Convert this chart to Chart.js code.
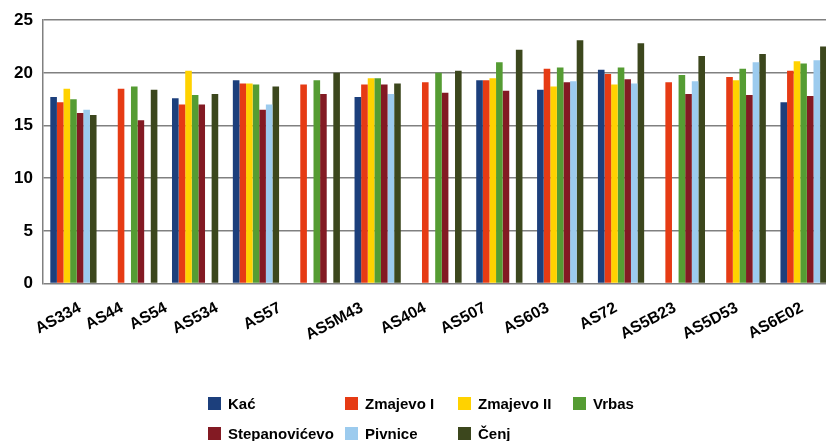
<!DOCTYPE html>
<html>
<head>
<meta charset="utf-8">
<script src="https://cdn.jsdelivr.net/npm/chart.js@4/dist/chart.umd.min.js"></script>
<style>
  html, body { margin: 0; padding: 0; background: #fff; }
  #page { position: relative; width: 826px; height: 441px; overflow: hidden; }
  #chartBox { position: absolute; left: 0; top: 0; width: 834px; height: 441px; }
  #legend {
    position: absolute; left: 208px; top: 388px;
    display: grid; grid-template-columns: 137px 113px 115px auto;
    grid-auto-rows: 30px;
    font: bold 15px "Liberation Sans", Arial, sans-serif; color: #000;
  }
  #legend .item { display: flex; align-items: center; white-space: nowrap; }
  #legend .box { width: 13px; height: 13px; margin-right: 7px; flex: none; }
</style>
</head>
<body>
<div id="page">
  <div id="chartBox"><canvas id="chart" width="834" height="441"></canvas></div>
  <div id="legend"></div>
</div>
<script>
// categories and series
var categories = ['AS334', 'AS44', 'AS54', 'AS534', 'AS57', 'AS5M43', 'AS404',
                  'AS507', 'AS603', 'AS72', 'AS5B23', 'AS5D53', 'AS6E02'];
var seriesNames = ['Kać', 'Zmajevo I', 'Zmajevo II', 'Vrbas', 'Stepanovićevo', 'Pivnice', 'Čenj'];

var kac           = [17.7, null, 17.6, 19.3, null, 17.7, null, 19.3, 18.4, 20.3, null, null, 17.2];
var zmajevo1      = [17.2, 18.5, 17.0, 19.0, 18.9, 18.9, 19.1, 19.3, 20.4, 19.9, 19.1, 19.6, 20.2];
var zmajevo2      = [18.5, null, 20.2, 19.0, null, 19.5, null, 19.5, 18.7, 18.9, null, 19.3, 21.1];
var vrbas         = [17.5, 18.7, 17.9, 18.9, 19.3, 19.5, 20.0, 21.0, 20.5, 20.5, 19.8, 20.4, 20.9];
var stepanovicevo = [16.2, 15.5, 17.0, 16.5, 18.0, 18.9, 18.1, 18.3, 19.1, 19.4, 18.0, 17.9, 17.8];
var pivnice       = [16.5, null, null, 17.0, null, 18.0, null, null, 19.2, 19.0, 19.2, 21.0, 21.2];
var cenj          = [16.0, 18.4, 18.0, 18.7, 20.0, 19.0, 20.2, 22.2, 23.1, 22.8, 21.6, 21.8, 22.5];

var yTicks = [0, 5, 10, 15, 20, 25];

var seriesValues = [kac, zmajevo1, zmajevo2, vrbas, stepanovicevo, pivnice, cenj];
var seriesColors = ['#1c3f7c', '#e63b14', '#ffd200', '#559c33', '#831a23', '#9ccbee', '#3c471d'];

// where the slanted category labels end (x pixel), they don't sit under the groups in the original
var labelAnchors = [80, 122, 166, 217, 280, 362, 425, 485, 548, 616, 675, 737, 802];

Chart.defaults.font.family = '"Liberation Sans", Arial, sans-serif';

var datasets = seriesNames.map(function(name, i) {
  return {
    label: name,
    data: seriesValues[i],
    backgroundColor: seriesColors[i],
    borderWidth: 0,
    barPercentage: 1,
    categoryPercentage: 0.76
  };
});

var ctx = document.getElementById('chart').getContext('2d');
var chart = new Chart(ctx, {
  type: 'bar',
  data: { labels: categories, datasets: datasets },
  options: {
    responsive: false,
    animation: false,
    layout: { padding: { top: 13.5, right: 0, bottom: 0, left: 0 } },
    plugins: { legend: { display: false }, tooltip: { enabled: false } },
    scales: {
      x: { display: false, offset: true },
      lbl: {
        type: 'linear',
        position: 'bottom',
        offset: false,
        min: 43,
        max: 834,
        afterBuildTicks: function(scale) {
          scale.ticks = labelAnchors.map(function(v) { return { value: v }; });
        },
        afterFit: function(scale) {
          scale.height = 441 - 283.5;
          scale.paddingLeft = 0;
          scale.paddingRight = 0;
        },
        ticks: {
          autoSkip: false,
          minRotation: 28,
          maxRotation: 28,
          padding: 15,
          color: '#000',
          font: { size: 16, weight: 'bold' },
          callback: function(v, i) { return categories[i]; }
        },
        grid: { display: false, drawTicks: false, offset: false },
        border: { display: false }
      },
      y: {
        min: 0,
        max: 25,
        afterBuildTicks: function(scale) {
          scale.ticks = yTicks.map(function(v) { return { value: v }; });
        },
        afterFit: function(scale) { scale.width = 43; },
        ticks: {
          padding: 10,
          color: '#000',
          font: { size: 17, weight: 'bold' }
        },
        grid: { color: '#808080', lineWidth: 1.5, drawTicks: false },
        border: { color: '#808080', width: 1.5 }
      }
    }
  }
});

// legend laid out as a grid, like the original
var legend = document.getElementById('legend');
chart.data.datasets.forEach(function(ds) {
  var item = document.createElement('div');
  item.className = 'item';
  var box = document.createElement('span');
  box.className = 'box';
  box.style.background = ds.backgroundColor;
  var txt = document.createElement('span');
  txt.textContent = ds.label;
  item.appendChild(box);
  item.appendChild(txt);
  legend.appendChild(item);
});
</script>
</body>
</html>
